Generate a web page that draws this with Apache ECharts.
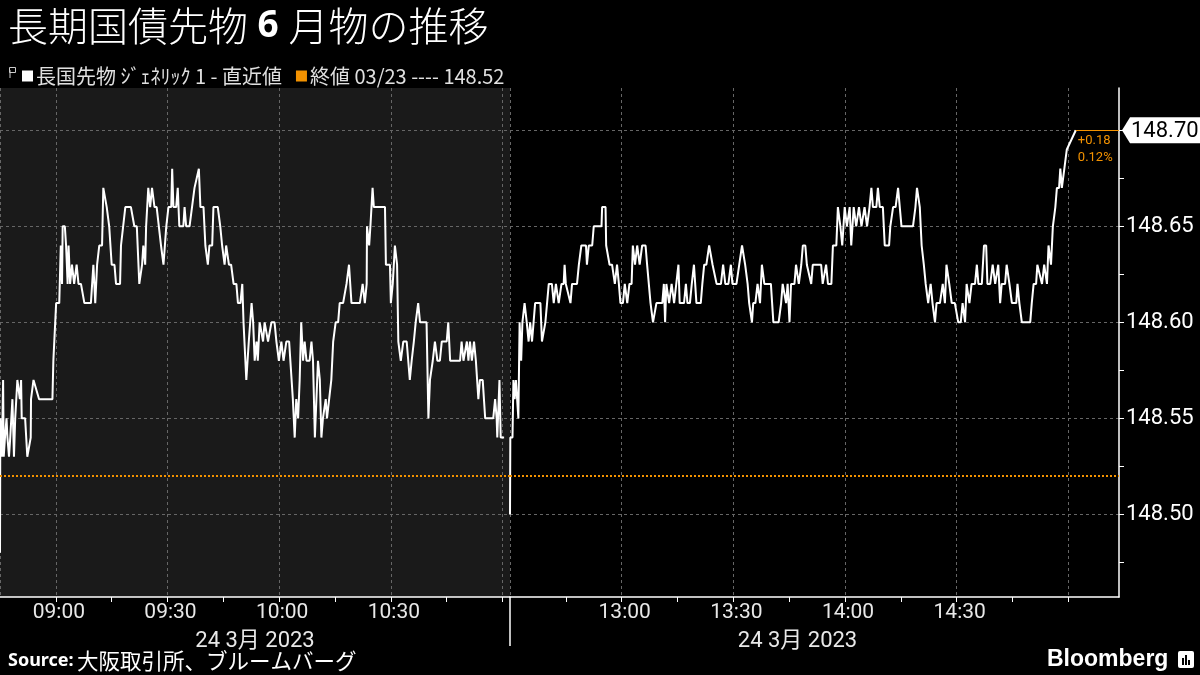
<!DOCTYPE html>
<html>
<head>
<meta charset="utf-8">
<title>長期国債先物6月物の推移</title>
<script src="https://cdn.jsdelivr.net/npm/echarts@6/dist/echarts.min.js"></script>
<style>
  html, body { margin: 0; padding: 0; background: #000; }
  #chart { width: 1200px; height: 675px; }
</style>
</head>
<body>
<div id="chart"></div>
<script>
// 前場 (morning session) ticks
const amTimes = [
  '08:45:00','08:45:05','08:45:30','08:45:50','08:46:00','08:46:20','08:46:45','08:47:00','08:47:25','08:47:45',
  '08:48:05','08:48:20','08:48:45','08:49:05','08:49:40','08:50:20','08:50:40','08:50:50','08:51:45','08:52:20',
  '08:53:15','08:53:20','08:53:45','08:54:00','08:55:30','08:59:05','08:59:20','08:59:50','09:00:05','09:00:55',
  '09:01:20','09:01:40','09:01:50','09:02:25','09:02:45','09:03:10','09:03:25','09:03:50','09:04:20','09:04:55',
  '09:05:35','09:06:05','09:06:45','09:07:40','09:08:30','09:09:25','09:10:05','09:10:35','09:11:05','09:11:40',
  '09:12:25','09:12:45','09:13:15','09:13:40','09:14:20','09:15:00','09:15:45','09:16:10','09:17:15','09:17:30',
  '09:18:40','09:20:10','09:21:05','09:21:45','09:22:25','09:23:10','09:23:30','09:24:00','09:24:15','09:24:50',
  '09:25:20','09:25:50','09:26:30','09:27:05','09:27:40','09:28:15','09:28:55','09:29:40','09:30:15','09:31:00',
  '09:31:15','09:31:35','09:32:20','09:32:45','09:33:10','09:34:15','09:34:35','09:35:00','09:35:55','09:37:15',
  '09:38:25','09:38:50','09:39:40','09:40:10','09:40:50','09:41:15','09:42:00','09:42:20','09:43:30','09:44:10',
  '09:44:40','09:45:20','09:45:45','09:46:30','09:47:05','09:47:45','09:48:30','09:48:55','09:49:35','09:50:05',
  '09:50:25','09:50:55','09:51:10','09:51:50','09:52:35','09:53:00','09:53:25','09:53:55','09:54:15','09:54:45',
  '09:55:40','09:56:05','09:57:00','09:57:55','09:58:45','09:59:15','09:59:55','10:00:35','10:01:10','10:01:55',
  '10:02:40','10:03:00','10:03:40','10:04:10','10:04:35','10:05:05','10:05:30','10:05:55','10:06:25','10:06:50',
  '10:07:20','10:08:10','10:08:40','10:09:05','10:09:35','10:10:00','10:10:25','10:10:55','10:11:20','10:11:45',
  '10:12:30','10:12:50','10:13:25','10:14:00','10:14:30','10:15:10','10:15:50','10:16:15','10:17:10','10:18:05',
  '10:18:45','10:19:10','10:19:25','10:20:20','10:21:40','10:22:25','10:23:00','10:23:30','10:23:35','10:24:10',
  '10:24:30','10:25:05','10:25:25','10:28:25','10:28:40','10:29:45','10:30:00','10:30:30','10:31:05','10:31:40',
  '10:32:00','10:32:25','10:32:40','10:33:20','10:34:15','10:34:40','10:35:05','10:35:35','10:36:10','10:36:40',
  '10:37:20','10:37:50','10:39:35','10:40:05','10:40:30','10:41:15','10:41:50','10:42:30','10:43:10','10:43:40',
  '10:45:00','10:45:25','10:45:55','10:47:15','10:48:35','10:49:00','10:49:30','10:50:25','10:50:50','10:51:15',
  '10:51:45','10:52:20','10:52:50','10:53:30','10:53:55','10:54:40','10:55:20','10:56:40','10:57:30','10:58:00',
  '10:58:25','10:58:35','10:59:10','10:59:30','11:00:25'
]
const amValues = [
  148.48,148.55,148.53,148.57,148.53,148.54,148.55,148.54,148.53,148.54,
  148.54,148.56,148.53,148.55,148.57,148.56,148.57,148.55,148.55,148.53,
  148.54,148.56,148.56,148.57,148.56,148.56,148.58,148.58,148.61,148.61,
  148.64,148.62,148.65,148.65,148.64,148.62,148.64,148.62,148.63,148.62,
  148.63,148.62,148.62,148.61,148.61,148.61,148.63,148.61,148.63,148.64,
  148.64,148.67,148.67,148.66,148.65,148.63,148.63,148.62,148.62,148.64,
  148.66,148.66,148.65,148.65,148.62,148.63,148.64,148.63,148.65,148.67,
  148.66,148.67,148.66,148.66,148.65,148.64,148.63,148.65,148.66,148.66,
  148.68,148.66,148.66,148.67,148.65,148.65,148.66,148.65,148.65,148.67,
  148.68,148.66,148.66,148.64,148.63,148.64,148.64,148.66,148.66,148.65,
  148.64,148.63,148.64,148.63,148.63,148.62,148.62,148.61,148.61,148.62,
  148.60,148.60,148.57,148.59,148.61,148.60,148.58,148.59,148.58,148.60,
  148.59,148.60,148.59,148.60,148.60,148.59,148.58,148.59,148.58,148.59,
  148.59,148.58,148.56,148.54,148.56,148.55,148.57,148.60,148.58,148.59,
  148.58,148.58,148.59,148.58,148.54,148.54,148.58,148.57,148.54,148.55,
  148.56,148.55,148.56,148.57,148.59,148.60,148.60,148.61,148.61,148.62,
  148.63,148.63,148.61,148.61,148.61,148.62,148.61,148.62,148.65,148.64,
  148.65,148.67,148.66,148.66,148.63,148.63,148.61,148.62,148.64,148.63,
  148.59,148.59,148.58,148.59,148.59,148.58,148.57,148.58,148.59,148.60,
  148.61,148.60,148.60,148.55,148.57,148.58,148.59,148.58,148.58,148.59,
  148.59,148.60,148.58,148.58,148.58,148.59,148.58,148.59,148.58,148.59,
  148.58,148.59,148.58,148.56,148.57,148.57,148.55,148.55,148.55,148.56,
  148.55,148.54,148.57,148.54,148.54
]

// 後場 (afternoon session) ticks
const pmTimes = [
  '12:30:00','12:30:05','12:30:40','12:30:55','12:31:15','12:31:35','12:31:50','12:32:15','12:32:35','12:33:00',
  '12:33:20','12:33:55','12:34:30','12:35:00','12:35:25','12:35:55','12:36:20','12:36:45','12:38:10','12:38:35',
  '12:39:30','12:39:55','12:40:25','12:41:15','12:41:45','12:42:20','12:43:05','12:43:50','12:44:25','12:44:40',
  '12:45:00','12:46:15','12:46:40','12:48:00','12:48:30','12:49:10','12:50:25','12:50:40','12:51:10','12:52:05',
  '12:52:30','12:54:35','12:54:45','12:55:40','12:55:50','12:56:45','12:57:25','12:58:10','12:58:45','12:59:15',
  '12:59:40','13:00:20','13:00:50','13:01:30','13:02:05','13:02:40','13:03:00','13:03:35','13:04:10','13:04:50',
  '13:05:30','13:06:25','13:06:50','13:07:20','13:07:45','13:08:25','13:08:55','13:09:20','13:10:55','13:11:20',
  '13:11:40','13:12:00','13:12:45','13:13:25','13:14:05','13:14:40','13:15:15','13:15:35','13:16:45','13:17:15',
  '13:17:40','13:18:20','13:18:50','13:19:25','13:20:05','13:21:15','13:21:40','13:22:10','13:22:45','13:23:30',
  '13:24:25','13:25:30','13:26:40','13:27:15','13:27:50','13:28:40','13:29:20','13:29:45','13:30:50','13:31:35',
  '13:32:20','13:33:10','13:33:50','13:34:15','13:35:00','13:35:20','13:35:55','13:36:30','13:37:10','13:37:40',
  '13:38:20','13:40:05','13:40:45','13:42:10','13:42:50','13:43:15','13:44:10','13:44:35','13:45:05','13:45:30',
  '13:46:25','13:46:50','13:47:35','13:48:15','13:48:40','13:49:20','13:49:45','13:50:55','13:51:20','13:53:35',
  '13:54:00','13:54:55','13:55:25','13:56:20','13:56:45','13:57:40','13:58:05','13:58:45','13:59:15','13:59:55',
  '14:00:30','14:01:15','14:01:40','14:02:20','14:03:00','14:03:45','14:04:25','14:05:15','14:05:55','14:06:35',
  '14:07:05','14:07:30','14:08:25','14:08:50','14:09:20','14:10:10','14:10:40','14:11:50','14:12:10','14:12:55',
  '14:13:35','14:14:15','14:15:10','14:18:15','14:18:55','14:19:20','14:20:05','14:20:35','14:21:10','14:21:40',
  '14:22:20','14:23:00','14:23:30','14:24:10','14:24:35','14:25:30','14:26:15','14:26:50','14:27:15','14:28:00',
  '14:28:40','14:29:30','14:30:25','14:31:05','14:31:35','14:32:15','14:32:40','14:33:25','14:34:00','14:34:55',
  '14:35:25','14:35:50','14:36:45','14:37:20','14:37:55','14:38:15','14:39:00','14:39:40','14:40:20','14:41:10',
  '14:41:40','14:42:05','14:43:00','14:43:25','14:44:10','14:44:50','14:46:00','14:46:20','14:46:50','14:47:30',
  '14:49:45','14:50:10','14:50:40','14:51:20','14:51:40','14:52:55','14:53:30','14:54:15','14:54:40','14:55:20',
  '14:55:50','14:56:30','14:56:55','14:57:30','14:57:50','14:58:15','14:58:55','14:59:25','14:59:35','15:02:00'
]
const pmValues = [
  148.50,148.54,148.54,148.57,148.56,148.57,148.57,148.55,148.60,148.58,
  148.60,148.61,148.60,148.59,148.60,148.59,148.60,148.61,148.61,148.59,
  148.60,148.60,148.62,148.62,148.61,148.62,148.61,148.62,148.62,148.63,
  148.62,148.61,148.62,148.62,148.63,148.64,148.64,148.63,148.64,148.64,
  148.65,148.65,148.66,148.66,148.64,148.63,148.63,148.62,148.63,148.62,
  148.61,148.61,148.62,148.61,148.62,148.62,148.64,148.63,148.64,148.63,
  148.64,148.64,148.63,148.63,148.61,148.60,148.60,148.61,148.61,148.62,
  148.60,148.62,148.61,148.62,148.61,148.62,148.63,148.61,148.61,148.62,
  148.61,148.61,148.62,148.63,148.61,148.61,148.62,148.63,148.63,148.64,
  148.63,148.62,148.62,148.63,148.62,148.62,148.63,148.62,148.62,148.63,
  148.64,148.63,148.62,148.61,148.60,148.61,148.61,148.62,148.61,148.63,
  148.62,148.62,148.60,148.60,148.61,148.62,148.61,148.62,148.60,148.62,
  148.62,148.63,148.62,148.63,148.64,148.64,148.63,148.62,148.63,148.63,
  148.62,148.63,148.62,148.62,148.64,148.64,148.66,148.65,148.64,148.66,
  148.65,148.66,148.64,148.66,148.65,148.66,148.65,148.66,148.65,148.66,
  148.67,148.66,148.66,148.67,148.66,148.66,148.64,148.64,148.65,148.66,
  148.66,148.67,148.65,148.65,148.66,148.67,148.66,148.64,148.63,148.62,
  148.61,148.62,148.61,148.60,148.61,148.61,148.62,148.61,148.63,148.62,
  148.61,148.61,148.60,148.60,148.61,148.60,148.62,148.61,148.62,148.62,
  148.63,148.62,148.62,148.64,148.64,148.62,148.62,148.63,148.62,148.63,
  148.61,148.62,148.62,148.63,148.62,148.61,148.61,148.62,148.61,148.60,
  148.60,148.61,148.62,148.62,148.63,148.62,148.63,148.62,148.64,148.63,
  148.65,148.66,148.67,148.67,148.68,148.67,148.68,148.68,148.69,148.70
]

const prevClose = 148.52
const prevCloseLabel = '終値 03/23 ---- 148.52'
const seriesName = '長国先物 ｼﾞｪﾈﾘｯｸ 1 - 直近値'
const sessionDate = '24 3月 2023'

const amTicks = ['09:00','09:15','09:30','09:45','10:00','10:15','10:30','10:45','11:00']
const amLabels = ['09:00','09:30','10:00','10:30']
const amGridLines = ['08:45','09:00','09:30','10:00','10:30','11:00','11:02']
const pmTicks = ['12:45','13:00','13:15','13:30','13:45','14:00','14:15','14:30','14:45','15:00']
const pmLabels = ['13:00','13:30','14:00','14:30']
const pmGridLines = ['13:00','13:30','14:00','14:30','15:00']
const priceTicks = [148.475,148.50,148.525,148.55,148.575,148.60,148.625,148.65,148.675,148.70]
const priceLabels = [148.50,148.55,148.60,148.65]
const priceGridLines = [148.50,148.55,148.60,148.65,148.70]

const ORANGE = '#f39200'
const GRIDLINE = '#666'
const AXIS_FONT = 'Roboto, "Noto Sans CJK JP", sans-serif'
const CJK_FONT = '"Noto Sans CJK JP", sans-serif'

function toMin(s) {
	const p = s.split(':').map(Number)
	return p[0] * 60 + p[1] + (p[2] || 0) / 60
}
function pad(n) { return (n < 10 ? '0' : '') + n }
function fmtTime(v) {
	const m = Math.round(v)
	return pad(Math.floor(m / 60)) + ':' + pad(m % 60)
}

const amMin = toMin('08:45'), amMax = toMin('11:02')
const pmMin = toMin('12:30'), pmMax = toMin('15:13:36')
const yMin = 148.457, yMax = 148.722

const amData = amTimes.map((t, i) => [toMin(t), amValues[i]])
const pmData = pmTimes.map((t, i) => [toMin(t), pmValues[i]])
const last = pmData[pmData.length - 1]

function timeAxis(grid, min, max, ticks, labels, name, namePad) {
	return {
		type: 'value', gridIndex: grid, min: min, max: max,
		axisLine: { show: true, lineStyle: { color: '#fff', width: 1.5 } },
		axisTick: { show: true, length: 5, lineStyle: { color: '#fff' }, customValues: ticks.map(toMin) },
		axisLabel: {
			customValues: labels.map(toMin), formatter: fmtTime,
			color: '#e8e8e8', fontSize: 21, fontFamily: AXIS_FONT, margin: 5, padding: [0, 0, 0, 6]
		},
		splitLine: { show: false },
		name: name, nameLocation: 'middle', nameGap: 33,
		nameTextStyle: { color: '#e8e8e8', fontSize: 22, fontFamily: AXIS_FONT, padding: namePad }
	}
}
function gridAxis(grid, min, max, lines) {
	return {
		type: 'value', gridIndex: grid, min: min, max: max,
		axisLine: { show: false }, axisLabel: { show: false },
		axisTick: { show: false, customValues: lines.map(toMin) },
		splitLine: { show: true, lineStyle: { color: GRIDLINE, type: [3, 3], width: 1 } }
	}
}

const chart = echarts.init(document.getElementById('chart'))

const option = {
	backgroundColor: '#000',
	animation: false,
	title: {
		left: 3, top: 1,
		text: '{a|長期国債先物}{b| 6 }{a|月物の推移}',
		textStyle: {
			fontWeight: 'normal',
			rich: {
				a: { fontSize: 40, color: '#fff', fontWeight: 300, fontFamily: CJK_FONT },
				b: { fontSize: 37, color: '#fff', fontWeight: 'bold', fontFamily: '"Noto Sans", sans-serif' }
			}
		}
	},
	legend: {
		left: 17, top: 61, selectedMode: false,
		icon: 'rect', itemWidth: 11, itemHeight: 11, itemGap: 14,
		textStyle: { color: '#e0e0e0', fontSize: 20, fontFamily: CJK_FONT, padding: [0, 0, 0, -2] },
		data: [seriesName, prevCloseLabel]
	},
	grid: [
		{ left: 0, top: 88, width: 510, height: 509, show: true, backgroundColor: '#1a1a1a', borderWidth: 0, outerBoundsMode: 'none' },
		{ left: 510, top: 88, width: 609, height: 509, show: false, outerBoundsMode: 'none' }
	],
	xAxis: [
		timeAxis(0, amMin, amMax, amTicks, amLabels, sessionDate, [0, 0, 0, 0]),
		gridAxis(0, amMin, amMax, amGridLines),
		timeAxis(1, pmMin, pmMax, pmTicks, pmLabels, sessionDate, [0, 34, 0, 0]),
		gridAxis(1, pmMin, pmMax, pmGridLines)
	],
	yAxis: [
		{
			type: 'value', gridIndex: 0, min: yMin, max: yMax,
			axisLine: { show: false }, axisLabel: { show: false },
			axisTick: { show: false, customValues: priceGridLines },
			splitLine: { show: true, lineStyle: { color: GRIDLINE, type: [3, 3], width: 1 } }
		},
		{
			type: 'value', gridIndex: 1, position: 'right', min: yMin, max: yMax,
			axisLine: { show: true, lineStyle: { color: '#fff', width: 1.5 } },
			axisTick: { show: true, length: 5, lineStyle: { color: '#fff' }, customValues: priceTicks },
			axisLabel: {
				customValues: priceLabels, formatter: v => v.toFixed(2),
				color: '#fff', fontSize: 22, fontFamily: AXIS_FONT, margin: 7
			},
			splitLine: { show: false }
		},
		{
			type: 'value', gridIndex: 1, position: 'right', min: yMin, max: yMax,
			axisLine: { show: false }, axisLabel: { show: false },
			axisTick: { show: false, customValues: priceGridLines },
			splitLine: { show: true, lineStyle: { color: GRIDLINE, type: [3, 3], width: 1 } }
		}
	],
	series: [
		{
			name: seriesName, type: 'line', xAxisIndex: 0, yAxisIndex: 0,
			data: amData, showSymbol: false, silent: true,
			itemStyle: { color: '#fff' }, lineStyle: { color: '#fff', width: 2 },
			markLine: {
				silent: true, symbol: 'none', label: { show: false },
				lineStyle: { color: ORANGE, type: [2, 2], width: 2 },
				data: [{ yAxis: prevClose }]
			}
		},
		{
			name: seriesName, type: 'line', xAxisIndex: 2, yAxisIndex: 1,
			data: pmData, showSymbol: false, silent: true,
			itemStyle: { color: '#fff' }, lineStyle: { color: '#fff', width: 2 },
			markLine: {
				silent: true, symbol: 'none', label: { show: false },
				data: [
					{ yAxis: prevClose, lineStyle: { color: ORANGE, type: [2, 2], width: 2 } },
					[
						{ coord: last, lineStyle: { color: ORANGE, type: 'solid', width: 1.2 } },
						{ coord: [pmMax, last[1]] }
					]
				]
			},
			z: 3
		},
		{
			name: prevCloseLabel, type: 'line', xAxisIndex: 2, yAxisIndex: 1,
			data: [], itemStyle: { color: ORANGE }, lineStyle: { color: ORANGE }
		}
	],
	graphic: [
		// legend glyph
		{ type: 'rect', left: 7, top: 65, shape: { width: 6, height: 5 }, style: { fill: 'none', stroke: '#ccc', lineWidth: 1 } },
		{ type: 'line', shape: { x1: 10, y1: 70, x2: 10, y2: 78 }, style: { stroke: '#ccc', lineWidth: 1 } },
		// session separator below the axis
		{ type: 'line', shape: { x1: 510, y1: 597, x2: 510, y2: 646 }, style: { stroke: '#fff', lineWidth: 1.5 } },
		{
			type: 'text', left: 8, top: 650,
			style: {
				text: '{b|Source:} {a|大阪取引所、ブルームバーグ}',
				rich: {
					b: { fontSize: 18, fontWeight: 'bold', fill: '#fff', fontFamily: '"Noto Sans", sans-serif' },
					a: { fontSize: 21.5, fill: '#fff', fontFamily: CJK_FONT }
				}
			}
		},
		{
			type: 'text', left: 1047, top: 648,
			style: { text: 'Bloomberg', fill: '#fff', fontSize: 23, fontWeight: 'bold', fontFamily: '"Liberation Sans", sans-serif' }
		},
		{
			type: 'group', left: 1178, top: 651,
			children: [
				{ type: 'rect', shape: { x: 0, y: 0, width: 16, height: 17, r: 2 }, style: { fill: '#fff' } },
				{ type: 'rect', shape: { x: 4, y: 7, width: 2, height: 7 }, style: { fill: '#000' } },
				{ type: 'rect', shape: { x: 7, y: 4, width: 2, height: 10 }, style: { fill: '#000' } },
				{ type: 'rect', shape: { x: 10, y: 9, width: 2, height: 5 }, style: { fill: '#000' } }
			]
		}
	]
}

chart.setOption(option)

// last price tag and change versus previous close, placed through the axes
const tagPos = chart.convertToPixel({ xAxisIndex: 2, yAxisIndex: 1 }, [pmMax, last[1]])
const endPos = chart.convertToPixel({ xAxisIndex: 2, yAxisIndex: 1 }, last)
const diff = last[1] - prevClose
const pct = diff / prevClose * 100
const tx = tagPos[0], ty = tagPos[1]
chart.setOption({
	graphic: option.graphic.concat([
		{
			type: 'polygon',
			shape: { points: [[tx + 3, ty], [tx + 11, ty - 13], [tx + 84, ty - 13], [tx + 84, ty + 13], [tx + 11, ty + 13]] },
			style: { fill: '#fff' }, z: 10
		},
		{
			type: 'text', x: tx + 12, y: ty + 1, z: 11,
			style: { text: last[1].toFixed(2), fill: '#000', fontSize: 22, fontFamily: AXIS_FONT, verticalAlign: 'middle' }
		},
		{
			type: 'text', x: endPos[0] + 2, y: endPos[1] + 2, z: 11,
			style: {
				text: (diff >= 0 ? '+' : '') + diff.toFixed(2) + '\n' + pct.toFixed(2) + '%',
				fill: ORANGE, fontSize: 13, lineHeight: 17, fontFamily: AXIS_FONT
			}
		}
	])
}, { replaceMerge: ['graphic'] })
</script>
</body>
</html>
